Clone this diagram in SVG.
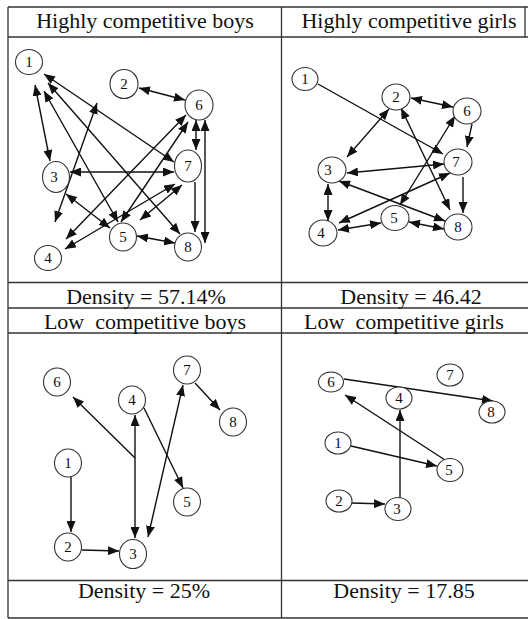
<svg xmlns="http://www.w3.org/2000/svg" width="528" height="619" viewBox="0 0 528 619">
<style>
.grid{stroke:#333;stroke-width:1.3;fill:none}
.hd{font-family:"Liberation Serif","Times New Roman","DejaVu Serif",serif;font-size:22px;fill:#111;text-anchor:middle}
.n ellipse{fill:#fff;stroke:#333;stroke-width:1.1}
.n text{font-family:"Liberation Serif","Times New Roman","DejaVu Serif",serif;font-size:15px;fill:#111;text-anchor:middle}
.e line{stroke:#111;stroke-width:1.4}
.b{marker-start:url(#ah);marker-end:url(#ah)}
.s{marker-end:url(#ah)}
</style>
<defs>
<marker id="ah" viewBox="0 0 11 9" refX="11" refY="4.5" markerWidth="11" markerHeight="9" markerUnits="userSpaceOnUse" orient="auto-start-reverse"><path d="M0,0 L11,4.5 L0,9 z" fill="#111"/></marker>
</defs>
<rect width="528" height="619" fill="#fff"/>
<g id="table" class="grid">
<line x1="8" y1="7" x2="528" y2="7"/>
<line x1="8" y1="37" x2="528" y2="37"/>
<line x1="8" y1="282.5" x2="528" y2="282.5"/>
<line x1="8" y1="308" x2="528" y2="308"/>
<line x1="8" y1="333" x2="528" y2="333"/>
<line x1="8" y1="580.5" x2="528" y2="580.5"/>
<line x1="8" y1="618" x2="528" y2="618"/>
<line x1="8" y1="7" x2="8" y2="618"/>
<line x1="281.5" y1="7" x2="281.5" y2="618"/>
<line x1="525" y1="7" x2="525" y2="37"/>
</g>
<g id="labels">
<text class="hd" x="145" y="28">Highly competitive boys</text>
<text class="hd" x="409" y="28">Highly competitive girls</text>
<text class="hd" x="146" y="304">Density = 57.14%</text>
<text class="hd" x="411" y="304">Density = 46.42</text>
<text class="hd" x="145" y="329" xml:space="preserve">Low  competitive boys</text>
<text class="hd" x="404" y="329" xml:space="preserve">Low  competitive girls</text>
<text class="hd" x="144" y="598">Density = 25%</text>
<text class="hd" x="404" y="598">Density = 17.85</text>
</g>
<g id="connectors" class="e">
<line class="b" x1="35" y1="85" x2="50" y2="161"/>
<line class="b" x1="44" y1="74" x2="174" y2="162"/>
<line class="b" x1="48" y1="83" x2="180" y2="234"/>
<line class="b" x1="44" y1="91" x2="118" y2="222"/>
<line class="b" x1="139" y1="88" x2="185" y2="100"/>
<line class="b" x1="196" y1="120" x2="196" y2="150"/>
<line class="b" x1="205" y1="120" x2="205" y2="243"/>
<line class="s" x1="195" y1="182" x2="195" y2="232"/>
<line class="b" x1="70" y1="172" x2="174" y2="172"/>
<line class="b" x1="66" y1="194" x2="110" y2="228"/>
<line class="b" x1="66" y1="239" x2="186" y2="115"/>
<line class="b" x1="65" y1="249" x2="175" y2="184"/>
<line class="b" x1="121" y1="222" x2="188" y2="122"/>
<line class="b" x1="140" y1="220" x2="182" y2="185"/>
<line class="b" x1="137" y1="236" x2="175" y2="243"/>
<line class="b" x1="97" y1="103" x2="55" y2="222"/>
<line class="s" x1="318" y1="84" x2="443" y2="154"/>
<line class="b" x1="411" y1="98" x2="453" y2="107"/>
<line class="b" x1="389" y1="109" x2="347" y2="157"/>
<line class="b" x1="401" y1="108" x2="450" y2="210"/>
<line class="s" x1="472" y1="124" x2="467" y2="147"/>
<line class="b" x1="347" y1="173" x2="444" y2="164"/>
<line class="s" x1="463" y1="177" x2="463" y2="213"/>
<line class="b" x1="339" y1="181" x2="445" y2="221"/>
<line class="b" x1="328" y1="184" x2="328" y2="221"/>
<line class="b" x1="339" y1="223" x2="450" y2="173"/>
<line class="b" x1="338" y1="230" x2="381" y2="223"/>
<line class="b" x1="409" y1="222" x2="444" y2="229"/>
<line class="b" x1="400" y1="205" x2="455" y2="116"/>
<line class="s" x1="71" y1="477" x2="71" y2="532"/>
<line class="s" x1="82" y1="550" x2="119" y2="551"/>
<line class="b" x1="135" y1="415" x2="135" y2="538"/>
<line class="s" x1="135" y1="458" x2="73" y2="397"/>
<line class="s" x1="144" y1="408" x2="183" y2="488"/>
<line class="b" x1="183" y1="385" x2="148" y2="537"/>
<line class="s" x1="195" y1="383" x2="220" y2="410"/>
<line class="s" x1="344" y1="379" x2="493" y2="401"/>
<line class="s" x1="445" y1="460" x2="345" y2="395"/>
<line class="s" x1="351" y1="446" x2="437" y2="466"/>
<line class="s" x1="352" y1="503" x2="385" y2="504"/>
<line class="s" x1="400" y1="498" x2="400" y2="410"/>
</g>
<g id="hb-1" class="n"><ellipse cx="29" cy="62" rx="13.5" ry="12.5"/><text x="29" y="67">1</text></g>
<g id="hb-2" class="n"><ellipse cx="124" cy="84" rx="14" ry="14.5"/><text x="124" y="89">2</text></g>
<g id="hb-3" class="n"><ellipse cx="56" cy="177" rx="13.5" ry="15.5"/><text x="54" y="182">3</text></g>
<g id="hb-4" class="n"><ellipse cx="48" cy="258" rx="13.5" ry="12.5"/><text x="48" y="263">4</text></g>
<g id="hb-5" class="n"><ellipse cx="123" cy="237" rx="13.5" ry="14"/><text x="123" y="242">5</text></g>
<g id="hb-6" class="n"><ellipse cx="199" cy="105" rx="14" ry="15"/><text x="199" y="110">6</text></g>
<g id="hb-7" class="n"><ellipse cx="188" cy="166" rx="13.5" ry="16"/><text x="188" y="171">7</text></g>
<g id="hb-8" class="n"><ellipse cx="188" cy="247" rx="13.5" ry="14"/><text x="188" y="252">8</text></g>
<g id="hg-1" class="n"><ellipse cx="305" cy="79" rx="13" ry="11.5"/><text x="305" y="84">1</text></g>
<g id="hg-2" class="n"><ellipse cx="396" cy="97" rx="14" ry="13"/><text x="396" y="102">2</text></g>
<g id="hg-3" class="n"><ellipse cx="332" cy="170" rx="14" ry="13"/><text x="328" y="175">3</text></g>
<g id="hg-4" class="n"><ellipse cx="323" cy="233" rx="14" ry="13"/><text x="321" y="238">4</text></g>
<g id="hg-5" class="n"><ellipse cx="395" cy="218" rx="14" ry="12.5"/><text x="394" y="223">5</text></g>
<g id="hg-6" class="n"><ellipse cx="467" cy="111" rx="14" ry="13"/><text x="467" y="116">6</text></g>
<g id="hg-7" class="n"><ellipse cx="458" cy="162" rx="14" ry="13"/><text x="456" y="167">7</text></g>
<g id="hg-8" class="n"><ellipse cx="458" cy="227" rx="14" ry="13"/><text x="458" y="232">8</text></g>
<g id="lb-1" class="n"><ellipse cx="68" cy="463" rx="13.5" ry="14"/><text x="68" y="468">1</text></g>
<g id="lb-2" class="n"><ellipse cx="68" cy="547" rx="13.5" ry="14"/><text x="68" y="552">2</text></g>
<g id="lb-3" class="n"><ellipse cx="133" cy="554" rx="13.5" ry="14.5"/><text x="133" y="559">3</text></g>
<g id="lb-4" class="n"><ellipse cx="132" cy="400" rx="13.5" ry="14"/><text x="132" y="405">4</text></g>
<g id="lb-5" class="n"><ellipse cx="187" cy="502" rx="13.5" ry="14"/><text x="187" y="507">5</text></g>
<g id="lb-6" class="n"><ellipse cx="57" cy="382" rx="13.5" ry="14"/><text x="57" y="387">6</text></g>
<g id="lb-7" class="n"><ellipse cx="187" cy="370" rx="13.5" ry="14"/><text x="187" y="375">7</text></g>
<g id="lb-8" class="n"><ellipse cx="233" cy="422" rx="13.5" ry="14"/><text x="233" y="427">8</text></g>
<g id="lg-1" class="n"><ellipse cx="338" cy="443" rx="13" ry="11"/><text x="338" y="448">1</text></g>
<g id="lg-2" class="n"><ellipse cx="339" cy="501" rx="13" ry="11"/><text x="339" y="506">2</text></g>
<g id="lg-3" class="n"><ellipse cx="398" cy="509" rx="13" ry="11.5"/><text x="397" y="514">3</text></g>
<g id="lg-4" class="n"><ellipse cx="399" cy="398" rx="13" ry="11"/><text x="399" y="403">4</text></g>
<g id="lg-5" class="n"><ellipse cx="450" cy="470" rx="13" ry="11.5"/><text x="449" y="475">5</text></g>
<g id="lg-6" class="n"><ellipse cx="331" cy="382" rx="12.5" ry="10"/><text x="331" y="387">6</text></g>
<g id="lg-7" class="n"><ellipse cx="450" cy="375" rx="13" ry="11"/><text x="450" y="380">7</text></g>
<g id="lg-8" class="n"><ellipse cx="492" cy="412" rx="13" ry="11"/><text x="491" y="417">8</text></g>
</svg>
